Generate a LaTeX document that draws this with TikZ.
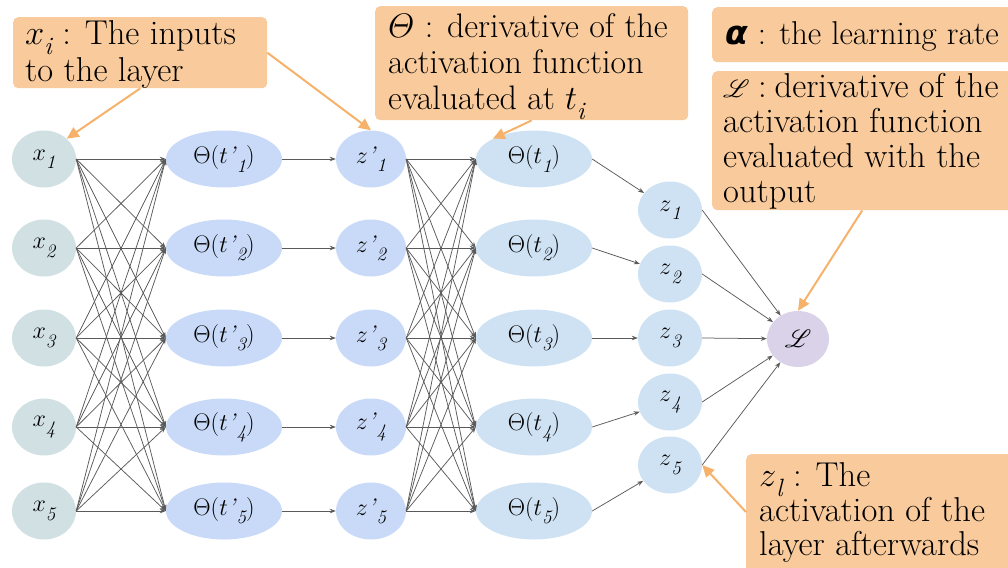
\RequirePackage{fix-cm}
\documentclass[tikz,border=0pt]{standalone}
\usepackage{amsmath}
\usepackage{mathrsfs}
\usepackage{fontspec}
\newfontfamily\dejavu{DejaVu Sans}
\usetikzlibrary{shapes.geometric,arrows.meta}
\definecolor{xcol}{HTML}{D0E0E3}
\definecolor{pcol}{HTML}{C9DAF8}
\definecolor{qcol}{HTML}{CFE2F3}
\definecolor{lcol}{HTML}{D9D2E9}
\definecolor{callfill}{HTML}{F9CB9C}
\definecolor{orangeA}{HTML}{F6B26B}
\definecolor{edgegray}{HTML}{5A5A5A}
% node subscript: large, lowered, text italic
\newcommand\nsb[1]{\raisebox{-0.34em}{\fontsize{19}{19}\selectfont\itshape #1}}
% callout subscript
\newcommand\csb[1]{\raisebox{-0.28em}{\fontsize{25}{25}\selectfont\itshape #1}}
\tikzset{
  nd/.style={ellipse, inner sep=0pt, minimum height=57pt, font=\fontsize{24}{28}\selectfont},
  xn/.style={nd, fill=xcol, minimum width=64pt},
  pn/.style={nd, fill=pcol, minimum width=116pt},
  zpn/.style={nd, fill=pcol, minimum width=70pt},
  qn/.style={nd, fill=qcol, minimum width=116pt},
  zn/.style={nd, fill=qcol, minimum width=64pt},
  ln/.style={nd, fill=lcol, minimum width=62pt, minimum height=56pt},
  edge/.style={draw=edgegray, line width=0.75pt, -{Stealth[length=6pt,width=4.5pt]}},
  callbox/.style={fill=callfill, rounded corners=5pt, inner sep=0pt, anchor=north west},
  ctext/.style={align=left, inner sep=0pt, anchor=base west},
  oarrow/.style={draw=orangeA, line width=2pt, -{Triangle[length=12pt,width=11pt]}}
}
\begin{document}
\begin{tikzpicture}[x=1pt,y=-1pt]
\useasboundingbox (0,0) rectangle (1008,567);
% nodes
\foreach \i/\y in {1/159,2/248,3/338,4/427,5/511}{
  \node[xn] (x\i) at (44,\y) {$x$\nsb{\i}};
  \node[pn] (p\i) at (224,\y) {$\Theta(t$\textit{’}\nsb{\i}$)$};
  \node[zpn] (zp\i) at (371,\y) {$z$\textit{’}\nsb{\i}};
  \node[qn] (q\i) at (534,\y) {$\Theta(t$\nsb{\i}$)$};
}
\foreach \i/\y in {1/210,2/274,3/338,4/402,5/465}{
  \node[zn] (z\i) at (670,\y) {$z$\nsb{\i}};
}
\node[ln] (L) at (798,339) {$\mathscr{L}$};
% edges
\foreach \i in {1,...,5}{
  \foreach \j in {1,...,5}{
    \draw[edge] (x\i.east) -- (p\j.west);
    \draw[edge] (zp\i.east) -- (q\j.west);
  }
  \draw[edge] (p\i.east) -- (zp\i.west);
  \draw[edge] (q\i.east) -- (z\i);
  \draw[edge] (z\i.east) -- (L);
}
% callouts
\node[callbox, minimum width=254pt, minimum height=71pt] (c1) at (13,17) {};
\node[ctext, font=\fontsize{34.5}{37}\selectfont] (t1) at (25,82) {$x$\csb{i} : The inputs\\to the layer};
\node[callbox, minimum width=313pt, minimum height=114pt] (c2) at (375,6) {};
\node[ctext, font=\fontsize{34}{36}\selectfont] (t2) at (388,110) {$\varTheta$ : derivative of the\\activation function\\evaluated at $t$\csb{i}};
\node[callbox, minimum width=300pt, minimum height=55pt] (c3) at (712,7) {};
\node[ctext, font=\fontsize{33}{36}\selectfont] (t3) at (725,45) {{\dejavu\bfseries\itshape α} : the learning rate};
\node[callbox, minimum width=300pt, minimum height=139pt] (c4) at (712,71) {};
\node[ctext, font=\fontsize{34.5}{35}\selectfont] (t4) at (723,202) {$\mathscr{L}$\hspace{-2pt} :\hspace{-6pt} derivative of the\\activation function\\evaluated with the\\output};
\node[callbox, minimum width=270pt, minimum height=120pt] (c5) at (746,454) {};
\node[ctext, font=\fontsize{34.5}{33.5}\selectfont] (t5) at (759,555) {$z$\csb{l} : The\\activation of the\\layer afterwards};
% orange arrows
\draw[oarrow] (c1.south) -- (x1.north east);
\draw[oarrow] (c1.east) -- (zp1.north);
\draw[oarrow] (c2.south) -- (q1.north west);
\draw[oarrow] (c4.south) -- (L.north);
\draw[oarrow] (c5.west |- 0,512) -- (z5.east);
\end{tikzpicture}
\end{document}
